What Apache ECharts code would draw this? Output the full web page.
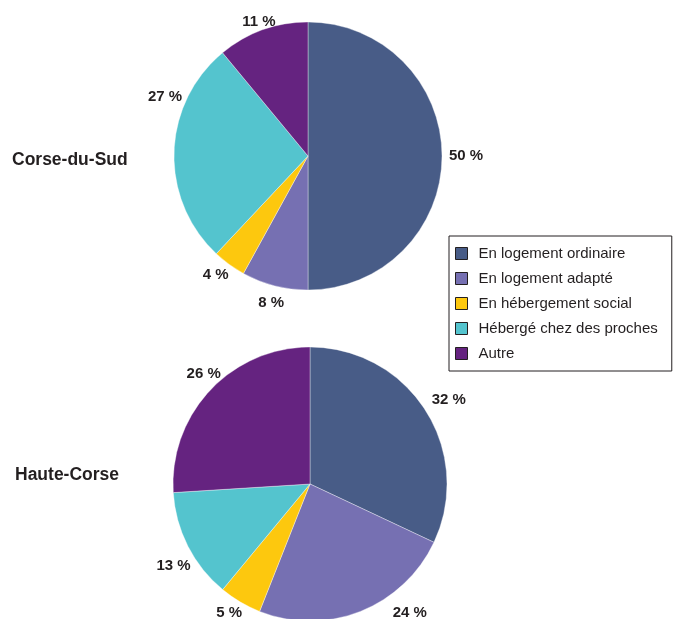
<!DOCTYPE html>
<html>
<head>
<meta charset="utf-8">
<script src="https://cdn.jsdelivr.net/npm/echarts@6/dist/echarts.min.js"></script>
<style>
html,body{margin:0;padding:0;background:#fff;}
#chart{width:679px;height:619px;}
</style>
</head>
<body>
<div id="chart"></div>
<script>
var categories = ["En logement ordinaire", "En logement adapté", "En hébergement social", "Hébergé chez des proches", "Autre"];
var regions = ["Corse-du-Sud", "Haute-Corse"];
var corseDuSud = [50, 8, 4, 27, 11];
var hauteCorse = [32, 24, 5, 13, 26];
var colors = ["#485c87", "#7670b2", "#fdc80e", "#54c4ce", "#652380"];

var FONT = "Liberation Sans, Arial, sans-serif";

// label nudges (pixels) per series / slice
var labelNudges = [
  [[-4, 0], [16, 11], [8, 6], [19, -55], [20, -2]],
  [[-4, -8], [25, 2], [10, 6], [13, 17], [20, -12]]
];

function makeData(vals) {
  return vals.map(function (v, i) { return { name: categories[i], value: v }; });
}

function pieSeries(vals, center, radius, idx) {
  return {
    type: 'pie',
    center: center,
    radius: radius,
    startAngle: 90,
    clockwise: true,
    silent: true,
    animation: false,
    itemStyle: { borderColor: 'rgba(255,255,255,0.6)', borderWidth: 0.6 },
    label: {
      show: true,
      position: 'outside',
      formatter: '{c} %',
      color: '#231f20',
      fontFamily: FONT,
      fontWeight: 'bold',
      fontSize: 15
    },
    labelLine: { show: false, length: 6, length2: 0 },
    labelLayout: function (p) {
      var o = labelNudges[idx][p.dataIndex];
      return { dx: o[0], dy: o[1] };
    },
    data: makeData(vals)
  };
}

var chart = echarts.init(document.getElementById('chart'), null, { renderer: 'canvas' });
chart.setOption({
  backgroundColor: '#fff',
  color: colors,
  title: [
    { text: regions[0], left: 12, top: 151, textStyle: { fontFamily: FONT, fontWeight: 'bold', fontSize: 17.5, color: '#231f20' }, padding: 0 },
    { text: regions[1], left: 15, top: 466, textStyle: { fontFamily: FONT, fontWeight: 'bold', fontSize: 17.5, color: '#231f20' }, padding: 0 }
  ],
  legend: {
    orient: 'vertical',
    left: 449,
    top: 236,
    padding: [10, 14, 10, 6],
    itemGap: 10,
    itemWidth: 12,
    itemHeight: 12,
    borderColor: '#231f20',
    borderWidth: 1,
    icon: 'rect',
    itemStyle: { borderColor: '#231f20', borderWidth: 1 },
    textStyle: { fontFamily: FONT, fontSize: 15, color: '#231f20', padding: [0, 0, 0, 6] },
    data: categories
  },
  series: [
    pieSeries(corseDuSud, [308, 156], 134, 0),
    pieSeries(hauteCorse, [310, 484], 137, 1)
  ]
});
</script>
</body>
</html>
